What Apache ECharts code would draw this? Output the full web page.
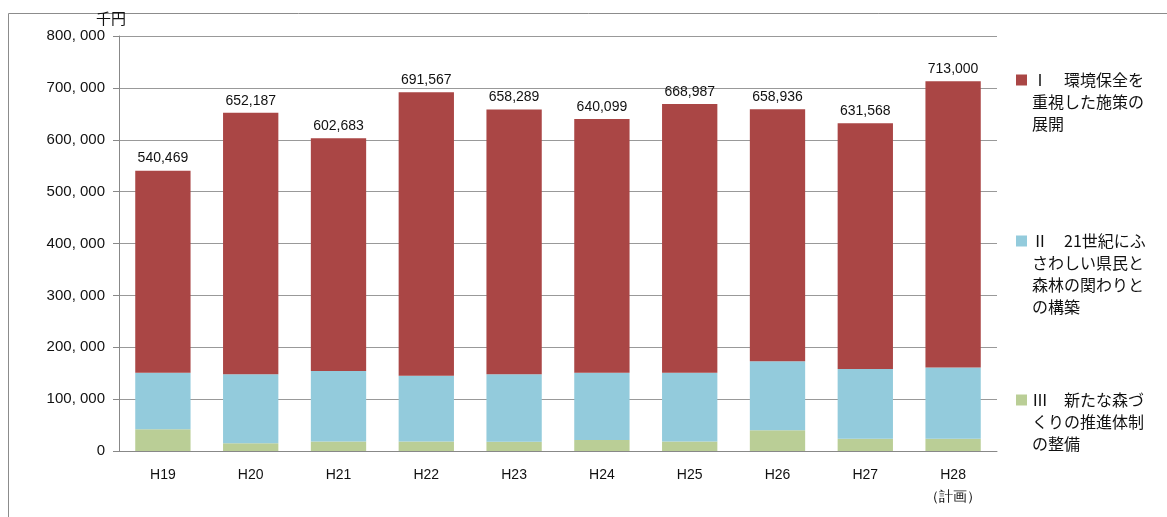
<!DOCTYPE html>
<html>
<head>
<meta charset="utf-8">
<script src="https://cdn.jsdelivr.net/npm/echarts@6/dist/echarts.min.js"></script>
<style>
  html, body { margin: 0; padding: 0; background: #fff; }
  #chart { width: 1167px; height: 517px; }
</style>
</head>
<body>
<div id="chart"></div>
<script>
// 年度
const categories = ["H19", "H20", "H21", "H22", "H23", "H24", "H25", "H26", "H27", "H28\n（計画）"];
// 合計（千円）
const totals = [540469, 652187, 602683, 691567, 658289, 640099, 668987, 658936, 631568, 713000];
// Ⅰ 環境保全を重視した施策の展開
const seriesI = [389469, 504187, 448683, 546567, 510289, 489099, 517987, 485936, 473568, 552000];
// Ⅱ 21世紀にふさわしい県民と森林の関わりとの構築
const seriesII = [109000, 133000, 135500, 126500, 130000, 130000, 132500, 133000, 134500, 137500];
// Ⅲ 新たな森づくりの推進体制の整備
const seriesIII = [42000, 15000, 18500, 18500, 18000, 21000, 18500, 40000, 23500, 23500];

const nameI = "Ⅰ　環境保全を\n重視した施策の\n展開";
const nameII = "Ⅱ　21世紀にふ\nさわしい県民と\n森林の関わりと\nの構築";
const nameIII = "Ⅲ　新たな森づ\nくりの推進体制\nの整備";

const jp = '"Noto Sans CJK JP", sans-serif';

// 凡例: マーカーを1行目に合わせるため、上に空行を足す
function legendAt(name, top) {
  const n = name.split("\n").length;
  return {
    data: [name],
    left: 1011,
    top: top,
    icon: "rect",
    itemWidth: 11,
    itemHeight: 11,
    selectedMode: false,
    formatter: function (s) {
      return "\n".repeat(n - 1) + s;
    },
    textStyle: { fontFamily: jp, fontSize: 16, color: "#111", lineHeight: 22 }
  };
}

const chart = echarts.init(document.getElementById("chart"));
chart.setOption({
  animation: false,
  textStyle: { fontFamily: "Liberation Sans, Arial, sans-serif" },
  graphic: [
    {
      type: "rect",
      shape: { x: 8.5, y: 13.5, width: 1300, height: 700 },
      style: { fill: "none", stroke: "#8c8c8c", lineWidth: 1 },
      z: -1
    }
  ],
  legend: [
    legendAt(nameI, 20),
    legendAt(nameII, 159),
    legendAt(nameIII, 340)
  ],
  grid: { left: 119, right: 170, top: 36, bottom: 66 },
  xAxis: {
    type: "category",
    data: categories,
    axisLine: { lineStyle: { color: "#888" } },
    axisTick: { length: 6, lineStyle: { color: "#888" } },
    axisLabel: { color: "#111", fontSize: 14, margin: 13, lineHeight: 22, fontFamily: "Liberation Sans Narrow, Liberation Sans, Arial" }
  },
  yAxis: {
    type: "value",
    min: 0,
    max: 800000,
    interval: 100000,
    name: "千円",
    nameLocation: "end",
    nameGap: 10,
    nameTextStyle: { fontFamily: jp, fontSize: 15, color: "#111", align: "center", padding: [0, 16, 0, 0] },
    axisLine: { show: true, lineStyle: { color: "#888" } },
    axisTick: { show: true, length: 6, lineStyle: { color: "#888" } },
    splitLine: { lineStyle: { color: "#999" } },
    axisLabel: {
      color: "#111",
      fontSize: 15,
      margin: 14,
      formatter: function (v) {
        return v === 0 ? "0" : echarts.format.addCommas(v).replace(/,/g, ", ");
      }
    }
  },
  series: [
    {
      name: nameIII,
      type: "bar",
      stack: "total",
      data: seriesIII,
      barWidth: "63%",
      itemStyle: { color: "#BACE96" }
    },
    {
      name: nameII,
      type: "bar",
      stack: "total",
      data: seriesII,
      itemStyle: { color: "#93CBDC" }
    },
    {
      name: nameI,
      type: "bar",
      stack: "total",
      data: seriesI,
      itemStyle: { color: "#AA4645" },
      label: {
        show: true,
        position: "top",
        distance: 5,
        fontSize: 14,
        color: "#111",
        formatter: function (p) {
          return echarts.format.addCommas(totals[p.dataIndex]);
        }
      }
    }
  ]
});
</script>
</body>
</html>
